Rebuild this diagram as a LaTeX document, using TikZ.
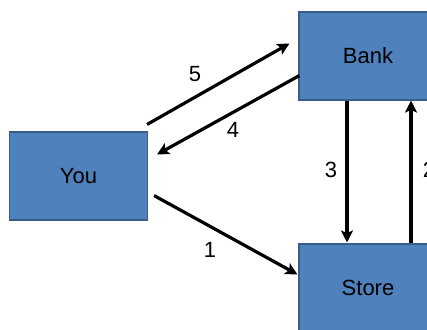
\documentclass[tikz,border=0pt]{standalone}
\usepackage{fontspec}
\setmainfont{Liberation Sans}
\usetikzlibrary{arrows.meta}
\definecolor{boxblue}{HTML}{4F81BD}
\definecolor{boxline}{HTML}{385D8A}

\begin{document}
\begin{tikzpicture}[x=0.75pt,y=-0.75pt,
        box/.style={draw=boxline,line width=0.8pt,fill=boxblue,inner sep=0pt,
            minimum width=103.5pt,minimum height=66pt,font=\fontsize{16.5}{19}\selectfont},
        lbl/.style={inner sep=0pt,font=\fontsize{16.5}{19}\selectfont},
        conn/.style={line width=2.4pt,-{Stealth[length=9pt,width=9pt,inset=2pt]}}]
            \useasboundingbox (0,0) rectangle (427,329);
            \clip (0,0) rectangle (427,329);
            \node[box] (you) at (78.5,176) {You};
            \node[box] (bank) at (368,56) {Bank};
            \node[box] (store) at (368,288) {Store};
            % arrows
            \draw[conn] ([shift={(-1,-7)}]you.north east) -- ([shift={(-9,32)}]bank.north west);
            \draw[conn] ([shift={(1,-25)}]bank.south west) -- ([shift={(9,23)}]you.north east);
            \draw[conn] ([shift={(6,-25)}]you.south east) -- ([shift={(-1,31)}]store.north west);
            \draw[conn] ([shift={(-21,0)}]bank.south) -- ([shift={(-21,-1)}]store.north);
            \draw[conn] ([shift={(43,0)}]store.north) -- ([shift={(43,0)}]bank.south);
            \node[lbl] (n5) at (195,74) {5};
            \node[lbl] (n4) at (233,130) {4};
            \node[lbl] (n3) at (331,170) {3};
            \node[lbl] (n2) at (429,170) {2};
            \node[lbl] (n1) at (210,250) {1};
        \end{tikzpicture}
\end{document}
